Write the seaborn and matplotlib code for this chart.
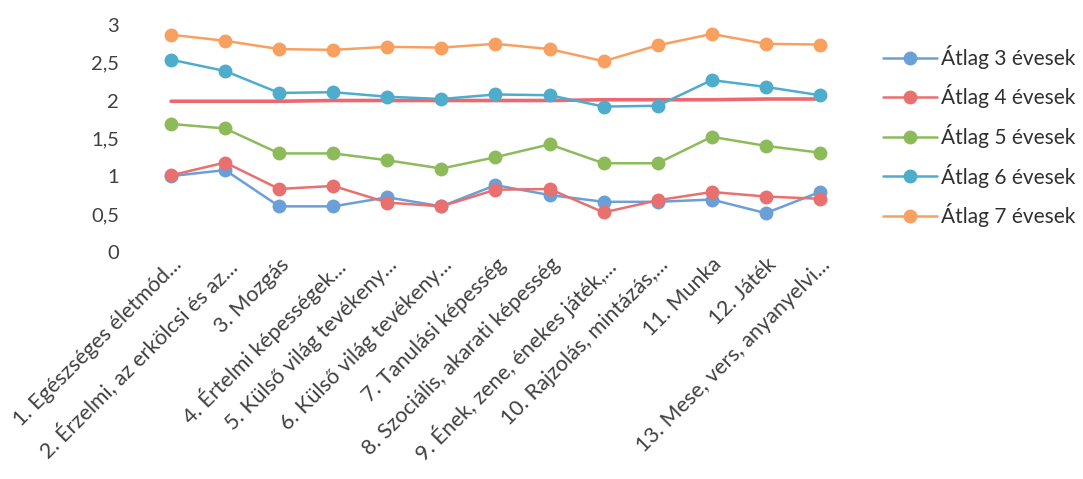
import pandas as pd
import numpy as np
import matplotlib.pyplot as plt
import seaborn as sns

# Kategóriák (tengelyfeliratok)
kategoriak = [
    "1. Egészséges életmód...",
    "2. Érzelmi, az erkölcsi és az...",
    "3. Mozgás",
    "4. Értelmi képességek...",
    "5. Külső világ tevékeny...",
    "6. Külső világ tevékeny...",
    "7. Tanulási képesség",
    "8. Szociális, akarati képesség",
    "9. Ének, zene, énekes játék,...",
    "10. Rajzolás, mintázás,...",
    "11. Munka",
    "12. Játék",
    "13. Mese, vers, anyanyelvi...",
]

atlag_3 = [1.00, 1.08, 0.60, 0.60, 0.72, 0.60, 0.88, 0.75, 0.66, 0.66, 0.69, 0.51, 0.79]
atlag_4 = [1.01, 1.18, 0.83, 0.87, 0.65, 0.60, 0.82, 0.83, 0.52, 0.68, 0.79, 0.73, 0.70]
atlag_5 = [1.69, 1.63, 1.30, 1.30, 1.21, 1.10, 1.25, 1.42, 1.17, 1.17, 1.52, 1.40, 1.31]
atlag_6 = [2.54, 2.39, 2.10, 2.11, 2.05, 2.02, 2.08, 2.07, 1.92, 1.93, 2.27, 2.18, 2.07]
atlag_7 = [2.87, 2.79, 2.68, 2.67, 2.71, 2.70, 2.75, 2.68, 2.52, 2.73, 2.88, 2.75, 2.74]
# piros vízszintes vonal (jelmagyarázat nélkül)
hatar = [1.99, 1.99, 1.99, 2.00, 2.00, 2.00, 2.00, 2.00, 2.01, 2.01, 2.01, 2.02, 2.02]

sorozatok = ["Átlag 3 évesek", "Átlag 4 évesek", "Átlag 5 évesek", "Átlag 6 évesek", "Átlag 7 évesek"]
szinek = ["#6a9fd8", "#e8706f", "#8dbb5a", "#4eaccc", "#f8a060"]

df = pd.DataFrame({
    "kategoria": kategoriak * 5,
    "ertek": atlag_3 + atlag_4 + atlag_5 + atlag_6 + atlag_7,
    "sorozat": [s for s in sorozatok for _ in kategoriak],
})
df_hatar = pd.DataFrame({"kategoria": kategoriak, "ertek": hatar})

sns.set_style("white")
plt.rcParams['font.family'] = ['Lato', 'DejaVu Sans']

fig = plt.figure(figsize=(10.83, 4.79), dpi=100)
ax = fig.add_axes([0.133, 0.4745, 0.649, 0.4735])

sns.lineplot(data=df_hatar, x="kategoria", y="ertek", color="#ee6670",
             linewidth=2.6, sort=False, ax=ax, legend=False)
sns.lineplot(data=df, x="kategoria", y="ertek", hue="sorozat", hue_order=sorozatok,
             palette=szinek, marker="o", markersize=10, markeredgewidth=0,
             linewidth=1.8, sort=False, ax=ax)

ax.set_ylim(0, 3)
ax.set_xlim(-0.5, len(kategoriak) - 0.5)
ax.set_yticks([0, 0.5, 1, 1.5, 2, 2.5, 3])
ax.set_yticklabels(["0", "0,5", "1", "1,5", "2", "2,5", "3"])
ax.set_xlabel("")
ax.set_ylabel("")
ax.tick_params(axis="y", labelsize=14.5, labelcolor="#404040", length=0, pad=18)
ax.tick_params(axis="x", labelsize=15.5, labelcolor="#404040", length=0, pad=2)
plt.setp(ax.get_xticklabels(), rotation=45, ha="right", rotation_mode="anchor")
for s in ax.spines.values():
    s.set_visible(False)

leg = ax.legend(loc="center left", bbox_to_anchor=(1.025, 0.51), frameon=False,
                fontsize=15, handlelength=2.6, labelspacing=0.75, handletextpad=0.15)
for t in leg.get_texts():
    t.set_color("#303030")

plt.savefig("out.png", dpi=100)
